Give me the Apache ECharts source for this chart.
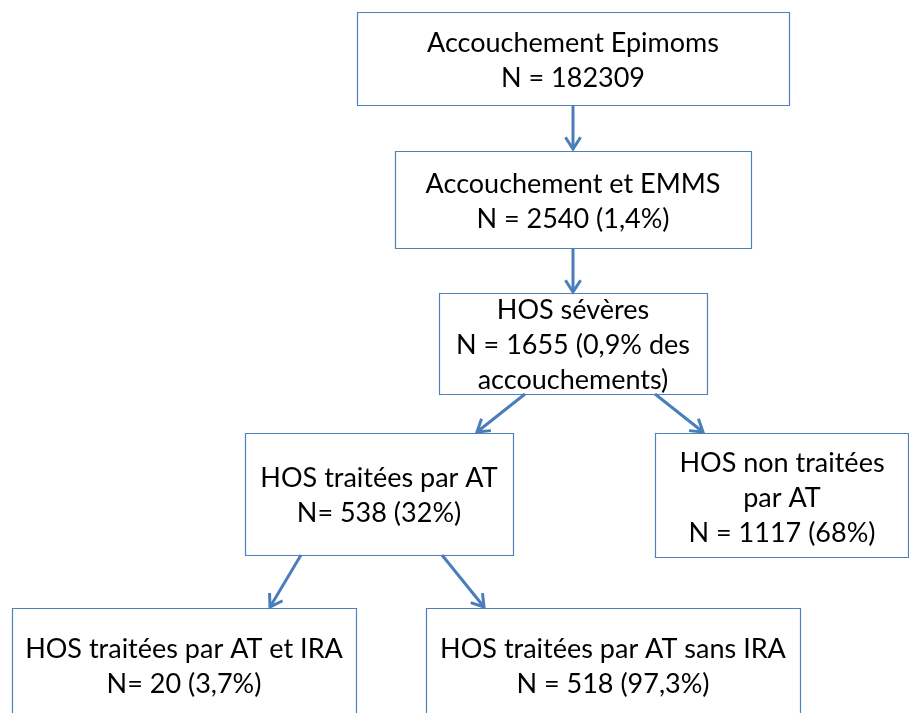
<!DOCTYPE html>
<html>
<head>
<meta charset="utf-8">
<script src="https://cdn.jsdelivr.net/npm/echarts@6/dist/echarts.min.js"></script>
<style>
  html, body { margin: 0; background: #fff; }
  #chart { width: 909px; height: 713px; }
</style>
</head>
<body>
<div id="chart"></div>
<script>
// texte de chaque case, une entrée par ligne
const nodeLines = [
  ['Accouchement Epimoms', 'N = 182309'],
  ['Accouchement et EMMS', 'N = 2540 (1,4%)'],
  ['HOS sévères', 'N = 1655 (0,9% des', 'accouchements)'],
  ['HOS traitées par AT', 'N= 538 (32%)'],
  ['HOS non traitées', 'par AT', 'N = 1117 (68%)'],
  ['HOS traitées par AT et IRA', 'N= 20 (3,7%)'],
  ['HOS traitées par AT sans IRA', 'N = 518 (97,3%)']
]

// liens parent -> enfant
const edges = [[0, 1], [1, 2], [2, 3], [2, 4], [3, 5], [3, 6]]

// mise en page (pixels de la page)
const boxRects = [
  [357, 12, 789, 105],
  [395, 151, 751, 248],
  [439, 293, 707, 394],
  [245, 433, 513, 555],
  [655, 433, 908, 557],
  [12, 608, 356, 720],
  [426, 608, 800, 720]
]
const textCenters = [
  [573, 61], [573, 202], [573, 345], [379, 496], [782, 498], [184, 667], [613, 667]
]
const arrowPaths = [
  [573, 105, 573, 149],
  [573, 248, 573, 292],
  [525, 394, 477, 432],
  [655, 394, 703, 432],
  [301, 555, 270, 607],
  [442, 555, 484, 607]
]

const lineColor = '#4f81bd'
const arrowColor = '#4a7ebb'

const chart = echarts.init(document.getElementById('chart'))

const renderBox = (params, api) => {
  const i = api.value(0)
  const r = boxRects[i]
  const p0 = api.coord([r[0], r[1]])
  const p1 = api.coord([r[2], r[3]])
  const c = api.coord(textCenters[i])
  return {
    type: 'group',
    children: [
      {
        type: 'rect',
        shape: { x: p0[0] + 0.5, y: p0[1] + 0.5, width: p1[0] - p0[0], height: p1[1] - p0[1] },
        style: { fill: '#fff', stroke: lineColor, lineWidth: 1.2 }
      },
      {
        type: 'text',
        style: {
          text: nodeLines[i].join('\n'),
          x: c[0],
          y: c[1],
          align: 'center',
          verticalAlign: 'middle',
          fontFamily: 'Lato',
          fontSize: 27,
          lineHeight: 35,
          fill: '#000'
        }
      }
    ]
  }
}

const renderArrow = (params, api) => {
  const i = api.value(0)
  const [x0, y0, x1, y1] = arrowPaths[i]
  const a = api.coord([x0, y0])
  const b = api.coord([x1, y1])
  const ang = Math.atan2(b[1] - a[1], b[0] - a[0])
  const len = 14
  const spread = Math.PI / 5.5
  const h1 = [b[0] - len * Math.cos(ang - spread), b[1] - len * Math.sin(ang - spread)]
  const h2 = [b[0] - len * Math.cos(ang + spread), b[1] - len * Math.sin(ang + spread)]
  return {
    type: 'group',
    children: [
      {
        type: 'line',
        shape: { x1: a[0], y1: a[1], x2: b[0], y2: b[1] },
        style: { stroke: arrowColor, lineWidth: 3 }
      },
      {
        type: 'polyline',
        shape: { points: [h1, b, h2] },
        style: { stroke: arrowColor, lineWidth: 3, fill: null }
      }
    ]
  }
}

const option = {
  animation: false,
  grid: { left: 0, right: 0, top: 0, bottom: 0 },
  xAxis: { type: 'value', min: 0, max: 909, show: false },
  yAxis: { type: 'value', min: 0, max: 713, inverse: true, show: false },
  series: [
    {
      type: 'custom',
      renderItem: renderBox,
      data: nodeLines.map((d, i) => [i]),
      clip: false
    },
    {
      type: 'custom',
      renderItem: renderArrow,
      data: edges.map((d, i) => [i]),
      clip: false
    }
  ]
}

chart.setOption(option)
</script>
</body>
</html>
